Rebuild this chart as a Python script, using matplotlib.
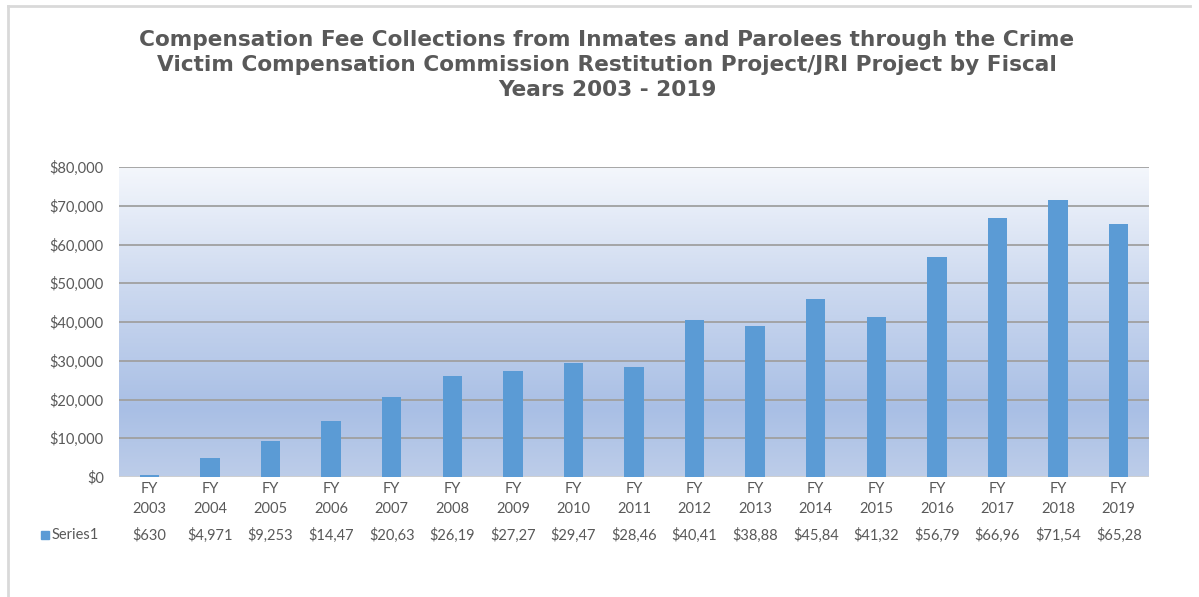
import matplotlib
matplotlib.use("Agg")
import matplotlib.pyplot as plt
import numpy as np
from matplotlib.colors import LinearSegmentedColormap
from matplotlib.transforms import blended_transform_factory
from matplotlib.lines import Line2D
from matplotlib.patches import Rectangle

years = ["2003", "2004", "2005", "2006", "2007", "2008", "2009", "2010", "2011",
         "2012", "2013", "2014", "2015", "2016", "2017", "2018", "2019"]
values = [630, 4971, 9253, 14470, 20630, 26190, 27270, 29470, 28460,
          40410, 38880, 45840, 41320, 56790, 66960, 71540, 65280]
yticks = [0, 10000, 20000, 30000, 40000, 50000, 60000, 70000, 80000]
series_name = "Series1"
title = ("Compensation Fee Collections from Inmates and Parolees through the Crime\n"
         "Victim Compensation Commission Restitution Project/JRI Project by Fiscal\n"
         "Years 2003 - 2019")

W, H = 1199, 597
fig = plt.figure(figsize=(W / 100, H / 100), dpi=100)
fig.patch.set_facecolor("white")

def fx(px):
    return px / W

def fy(py):
    return 1 - py / H

# outer frame (top and left edges visible)
fig.add_artist(Line2D([fx(8), fx(1190)], [fy(6), fy(6)], color="#d9d9d9", lw=2))
fig.add_artist(Line2D([fx(8), fx(8)], [fy(6), fy(597)], color="#d9d9d9", lw=2))

ax = fig.add_axes([fx(119), fy(477), fx(1149) - fx(119), fy(167) - fy(477)])
n = len(years)
x = np.arange(n)
ax.set_xlim(-0.5, n - 0.5)
ax.set_ylim(0, 80000)

# gradient background
cmap = LinearSegmentedColormap.from_list(
    "bg", [(0.0, "#bdcde9"), (0.22, "#a9bfe5"), (0.6, "#cbd8ef"), (1.0, "#f4f7fc")])
grad = np.linspace(0, 1, 256).reshape(-1, 1)
ax.imshow(grad, aspect="auto", cmap=cmap, origin="lower",
          extent=(-0.5, n - 0.5, 0, 80000), zorder=0)

for yt in yticks[1:]:
    ax.axhline(yt, color="#a0a0a0", lw=1.3, zorder=1)
ax.axhline(0, color="#d0d0d0", lw=2, zorder=1)

ax.bar(x, values, width=0.32, color="#5b9bd5", zorder=2)

FS = 10.5
for s in ax.spines.values():
    s.set_visible(False)
ax.set_xticks([])
ax.set_yticks(yticks)
ax.set_yticklabels(["${:,}".format(v) for v in yticks], fontfamily="Lato",
                   fontsize=FS, color="#595959")
ax.tick_params(axis="y", length=0, pad=11)

tr = blended_transform_factory(ax.transData, fig.transFigure)
for i, yr in enumerate(years):
    ax.text(i, fy(489), "FY", transform=tr, ha="center", va="center",
            fontfamily="Lato", fontsize=FS, color="#595959")
    ax.text(i, fy(509), yr, transform=tr, ha="center", va="center",
            fontfamily="Lato", fontsize=FS, color="#595959")
    lab = "${:,}".format(values[i])[:6]
    ax.text(i, fy(535), lab, transform=tr, ha="center", va="center",
            fontfamily="Lato", fontsize=FS, color="#595959")

fig.add_artist(Rectangle((fx(41), fy(539)), fx(8), 8 / H, color="#5b9bd5"))
fig.text(fx(52), fy(535), series_name, ha="left", va="center",
         fontfamily="Lato", fontsize=FS, color="#595959")

fig.text(fx(607), fy(65), title, ha="center", va="center", fontfamily="DejaVu Sans",
         fontweight="bold", fontsize=15.6, color="#595959", linespacing=1.3)

fig.savefig("out.png", dpi=100)
